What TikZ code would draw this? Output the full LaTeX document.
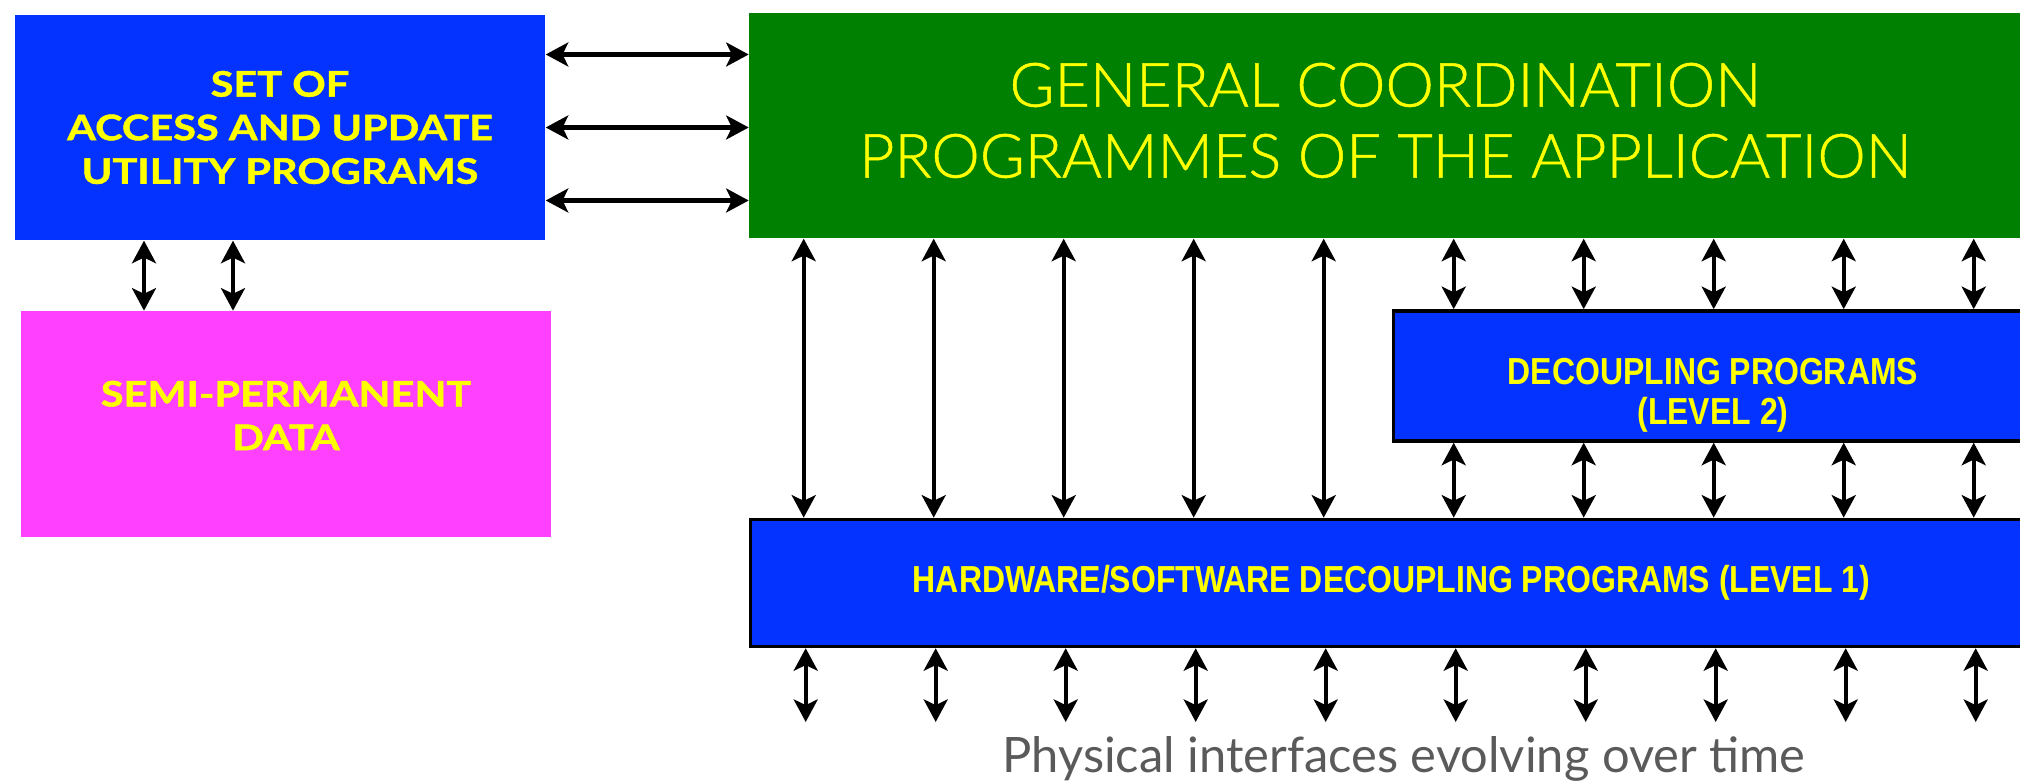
\documentclass[tikz,border=0pt]{standalone}
\usepackage{fontspec}
\setmainfont{Lato}
\newfontfamily\lightfont{Lato Light}[FakeBold=0.8]
\newfontfamily\wideboxfont{Lato}[FakeStretch=1.18, BoldFeatures={FakeBold=1.3}]
\newfontfamily\narrowfont{Liberation Sans}[FakeStretch=0.85]
\usetikzlibrary{positioning,arrows.meta,calc}
\definecolor{cblue}{HTML}{0433FF}
\definecolor{cgreen}{HTML}{008000}
\definecolor{cmag}{HTML}{FF40FF}
\definecolor{cyel}{HTML}{FFFF00}
\definecolor{cgray}{HTML}{5A5A5A}

\begin{document}
\begin{tikzpicture}[
  >={Stealth[length=6.4pt,width=6.8pt,inset=1.6pt]},
  blk/.style={inner sep=0pt},
  txt/.style={inner sep=0pt, align=center, text=cyel},
  prog/.style={blk, fill=cblue, minimum width=5.3cm, minimum height=2.25cm},
  dat/.style={blk, fill=cmag, minimum width=5.3cm, minimum height=2.26cm},
  gen/.style={blk, fill=cgreen, minimum width=12.72cm, minimum height=2.25cm},
  lvl/.style={blk, fill=cblue, draw=black, line width=1.0pt},
  widetxt/.style={txt, font=\wideboxfont\bfseries\fontsize{10}{12.4}\selectfont},
  gentxt/.style={txt, font=\lightfont\fontsize{17.4}{20.2}\selectfont},
  lvltxt/.style={txt, font=\narrowfont\bfseries\fontsize{10.7}{11.4}\selectfont},
  dbl/.style={<->, line width=1.15pt},
  note/.style={text=cgray, font=\fontsize{13.9}{16}\selectfont, inner sep=0pt},
]
\useasboundingbox (0,0) rectangle (20.2,7.83);

% ---- left: utilities and data ----
\node[prog] (util) at (2.80,6.555) {};
\node[dat, below=0.70cm of util, xshift=0.06cm] (data) {};
\node[widetxt] (utiltxt) at (util.center) {SET OF\\ACCESS AND UPDATE\\UTILITY PROGRAMS};
\node[widetxt] (datatxt) at ([yshift=0.09cm]data.center) {SEMI-PERMANENT\\DATA};

% ---- right: coordination and decoupling layers ----
\node[gen, right=2.03cm of util, yshift=0.02cm] (coord) {};
\node[lvl, minimum width=12.82cm, minimum height=1.27cm, below right=2.79cm and 0cm of coord.south west] (lvlone) {};
\node[lvl, minimum width=6.39cm, minimum height=1.30cm, above left=0.75cm and 0cm of lvlone.north east] (lvltwo) {};
\node[gentxt] (coordtxt) at ([yshift=0.05cm]coord.center) {GENERAL COORDINATION\\PROGRAMMES OF THE APPLICATION};
\node[lvltxt] (lvlonetxt) at (lvlone.center) {HARDWARE/SOFTWARE DECOUPLING PROGRAMS (LEVEL 1)};
\node[lvltxt] (lvltwotxt) at ([yshift=-0.19cm]lvltwo.center) {DECOUPLING PROGRAMS\\(LEVEL 2)};
\coordinate (base) at (0,0.61);
\node[note, anchor=base] (iface) at (14.04,0.10) {Physical interfaces evolving over time};

% ---- flows ----
\foreach \dy in {0.73,0,-0.73}
  \draw[dbl] ([yshift=\dy cm]util.east) -- ([yshift=\dy cm]util.east -| coord.west);
\foreach \dx in {-1.36,-0.47}
  \draw[dbl] ([xshift=\dx cm]util.south) -- ([xshift=\dx cm]util.south |- data.north);
\foreach \i in {0,...,4}{
  \pgfmathsetmacro\dx{0.55+1.3*\i}
  \draw[dbl] ([xshift=\dx cm]coord.south west) -- ([xshift=\dx cm]coord.south west |- lvlone.north);
}
\foreach \i in {5,...,9}{
  \pgfmathsetmacro\dx{0.55+1.3*\i}
  \draw[dbl] ([xshift=\dx cm]coord.south west) -- ([xshift=\dx cm]coord.south west |- lvltwo.north);
  \draw[dbl] ([xshift=\dx cm]coord.south west |- lvltwo.south) -- ([xshift=\dx cm]coord.south west |- lvlone.north);
}
\foreach \i in {0,...,9}{
  \pgfmathsetmacro\dx{0.57+1.3*\i}
  \draw[dbl] ([xshift=\dx cm]lvlone.south west) -- ([xshift=\dx cm]lvlone.south west |- base);
}
\end{tikzpicture}
\end{document}
